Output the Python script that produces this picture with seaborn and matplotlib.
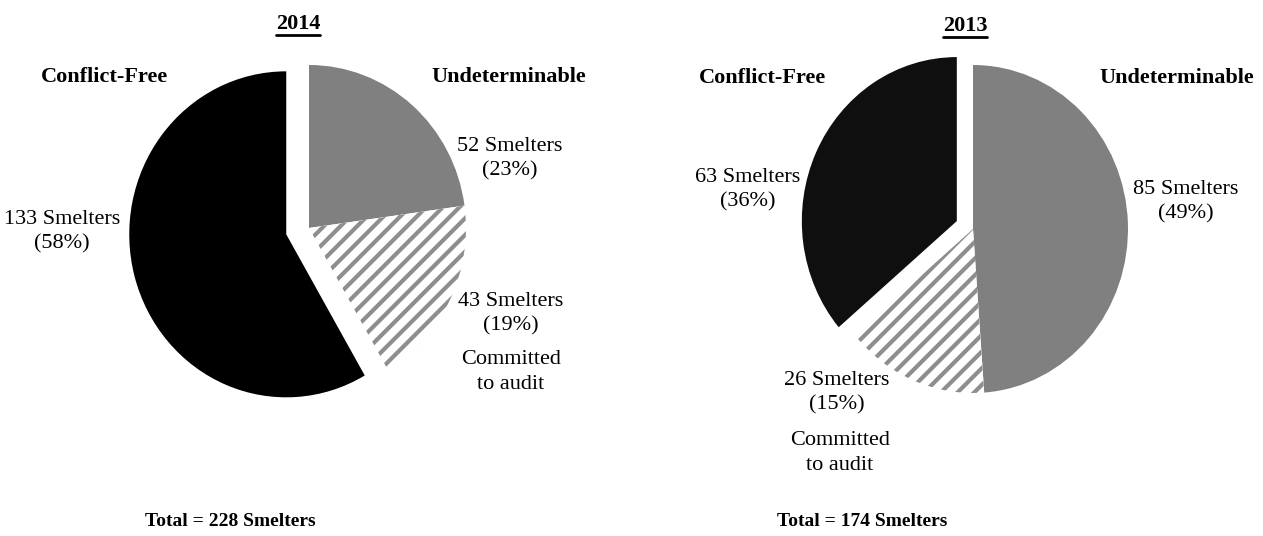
import matplotlib
matplotlib.use("Agg")
import matplotlib.pyplot as plt
from matplotlib.lines import Line2D
import seaborn as sns

sns.set_theme(style="white")
plt.rcParams["font.family"] = ["Liberation Serif", "DejaVu Serif"]
plt.rcParams["text.color"] = "black"
plt.rcParams["hatch.linewidth"] = 3.0

# ---- data -------------------------------------------------------------
years = ["2014", "2013"]
categories = ["Undeterminable", "Committed to audit", "Conflict-Free"]
smelters_2014 = [52, 43, 133]
smelters_2013 = [85, 26, 63]
percent_2014 = [23, 19, 58]
percent_2013 = [49, 15, 36]
totals = [228, 174]

# ---- styling ----------------------------------------------------------
W, H = 1263, 536
GRAY = "#808080"
HATCH_GRAY = "#8e8e8e"
BLACKS = ["#000000", "#0f0f0f"]
EXPLODE = [0.15, 0.115]

fig = plt.figure(figsize=(W / 100, H / 100), dpi=100)
fig.patch.set_facecolor("white")


def fx(x):
    return x / W


def fy(y):
    return 1 - y / H


def put(x, y, s, bold=False, size=16, **kw):
    return fig.text(fx(x), fy(y), s, ha="center", va="center",
                    fontsize=size, fontweight="bold" if bold else "normal",
                    linespacing=1.4, color="black", **kw)


def pie_axes(cx, cy, rx, ry, half=1.25):
    left = cx - half * rx
    top = cy - half * ry
    ax = fig.add_axes([fx(left), fy(top + 2 * half * ry),
                       2 * half * rx / W, 2 * half * ry / H])
    ax.set_axis_off()
    return ax


def draw_pie(ax, values, black, explode):
    wedges, _ = ax.pie(values, startangle=90, counterclock=False,
                       colors=[GRAY, "white", black],
                       explode=[0, 0, explode],
                       wedgeprops=dict(linewidth=0))
    wedges[1].set_edgecolor(HATCH_GRAY)
    wedges[1].set_hatch("//")
    ax.set_aspect("auto")
    ax.set_xlim(-1.25, 1.25)
    ax.set_ylim(-1.25, 1.25)
    ax.set_axis_off()
    return wedges


def smelter_label(n, p):
    return f"{n} Smelters\n({p}%)"


# pie geometry (pixel centre, radii)
geometry = [(309, 228, 157, 163), (973, 229, 155, 164)]
series = [smelters_2014, smelters_2013]

for i in range(2):
    cx, cy, rx, ry = geometry[i]
    ax = pie_axes(cx, cy, rx, ry)
    draw_pie(ax, series[i], BLACKS[i], EXPLODE[i])

# ---- text -------------------------------------------------------------
titles = []
titles.append(put(298, 24, years[0], bold=True))
titles.append(put(965, 26, years[1], bold=True))

# 2014
put(104, 77, categories[2], bold=True)
put(509, 77, categories[0], bold=True)
put(510, 159, smelter_label(smelters_2014[0], percent_2014[0]))
put(62, 232, smelter_label(smelters_2014[2], percent_2014[2]))
put(511, 314, smelter_label(smelters_2014[1], percent_2014[1]))
put(511, 372, "Committed\nto audit")
put(230, 522, f"Total = {totals[0]} Smelters", bold=True, size=14)

# 2013
put(762, 78, categories[2], bold=True)
put(1177, 78, categories[0], bold=True)
put(748, 190, smelter_label(smelters_2013[2], percent_2013[2]))
put(1186, 202, smelter_label(smelters_2013[0], percent_2013[0]))
put(837, 393, smelter_label(smelters_2013[1], percent_2013[1]))
put(840, 453, "Committed\nto audit")
put(862, 522, f"Total = {totals[1]} Smelters", bold=True, size=14)

# underline the year titles
fig.canvas.draw()
renderer = fig.canvas.get_renderer()
inv = fig.transFigure.inverted()
for t in titles:
    bb = t.get_window_extent(renderer)
    (x0, y0), (x1, _) = inv.transform([(bb.x0, bb.y0), (bb.x1, bb.y1)])
    fig.add_artist(Line2D([x0, x1], [y0 - 1.0 / H, y0 - 1.0 / H],
                          transform=fig.transFigure, color="black",
                          linewidth=2.0))

fig.savefig("out.png", dpi=100, facecolor="white")
